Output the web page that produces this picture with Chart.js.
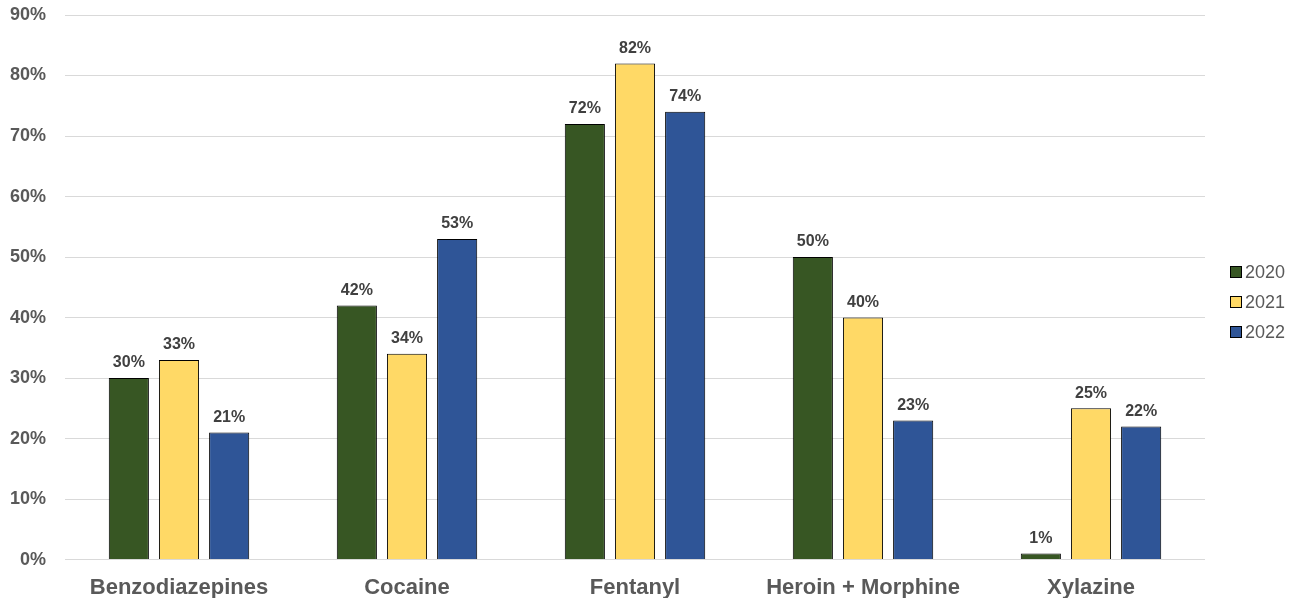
<!DOCTYPE html>
<html><head><meta charset="utf-8">
<script src="https://cdn.jsdelivr.net/npm/chart.js@4/dist/chart.umd.min.js"></script>
<style>html,body{margin:0;padding:0;background:#fff}#wrap{width:1301px;height:598px;position:relative}</style>
</head><body><div id="wrap"><canvas id="c" width="1301" height="598"></canvas></div>
<script>
const categories = ["Benzodiazepines","Cocaine","Fentanyl","Heroin + Morphine","Xylazine"];
const values2020 = [30,42,72,50,1];
const values2021 = [33,34,82,40,25];
const values2022 = [21,53,74,23,22];
const seriesNames = ["2020","2021","2022"];
const yTicks = [0,10,20,30,40,50,60,70,80,90];
const FONT = '"Liberation Sans", Arial, sans-serif';

const labelPlugin = {
  id:'vlabels',
  afterDatasetsDraw(chart){
    const ctx = chart.ctx;
    ctx.save();
    ctx.font = 'bold 16px ' + FONT;
    ctx.fillStyle = '#404040';
    ctx.textAlign = 'center';
    ctx.textBaseline = 'bottom';
    chart.data.datasets.forEach((ds,i)=>{
      chart.getDatasetMeta(i).data.forEach((bar,j)=>{
        ctx.fillText(ds.data[j]+'%', bar.x, bar.y-7);
      });
    });
    ctx.restore();
  }
};

const legendPlugin = {
  id:'customLegend',
  afterDraw(chart){
    const ctx = chart.ctx;
    ctx.save();
    ctx.font = '18px ' + FONT;
    ctx.textAlign = 'left';
    ctx.textBaseline = 'middle';
    const mid = chart.chartArea.top + (chart.chartArea.bottom - chart.chartArea.top)/2;
    const y0 = Math.round(mid - 15);
    chart.data.datasets.forEach((ds,i)=>{
      const y = y0 + i*30;
      ctx.fillStyle = ds.backgroundColor;
      ctx.fillRect(1230.5, y-5.5, 11, 11);
      ctx.strokeStyle = '#000';
      ctx.lineWidth = 1;
      ctx.strokeRect(1230.5, y-5.5, 11, 11);
      ctx.fillStyle = '#595959';
      ctx.fillText(ds.label, 1245, y+1);
    });
    ctx.restore();
  }
};

new Chart(document.getElementById('c'),{
  type:'bar',
  data:{
    labels:categories,
    datasets:[
      {label:seriesNames[0],data:values2020,backgroundColor:'#375623'},
      {label:seriesNames[1],data:values2021,backgroundColor:'#FFD966'},
      {label:seriesNames[2],data:values2022,backgroundColor:'#2F5597'}
    ].map(d=>Object.assign(d,{borderColor:'#000',borderWidth:1,categoryPercentage:0.66,barPercentage:0.8}))
  },
  options:{
    responsive:false,animation:false,
    layout:{padding:{top:15,right:96,left:0,bottom:-10}},
    plugins:{
      legend:{display:false},
      tooltip:{enabled:false}
    },
    scales:{
      x:{grid:{display:false},border:{display:false},
        ticks:{color:'#595959',padding:7,font:{family:FONT,size:22,weight:'bold'}}},
      y:{min:0,max:90,afterBuildTicks(ax){ax.ticks=yTicks.map(v=>({value:v}));},
        afterFit(ax){ax.width=65;ax.paddingTop=0;ax.paddingBottom=0;},
        grid:{color:'#d9d9d9',lineWidth:1,drawTicks:false},border:{display:false},
        ticks:{padding:19,color:'#595959',callback:v=>v+'%',
          font:{family:FONT,size:18,weight:'bold'}}}
    }
  },
  plugins:[labelPlugin,legendPlugin]
});
</script></body></html>
